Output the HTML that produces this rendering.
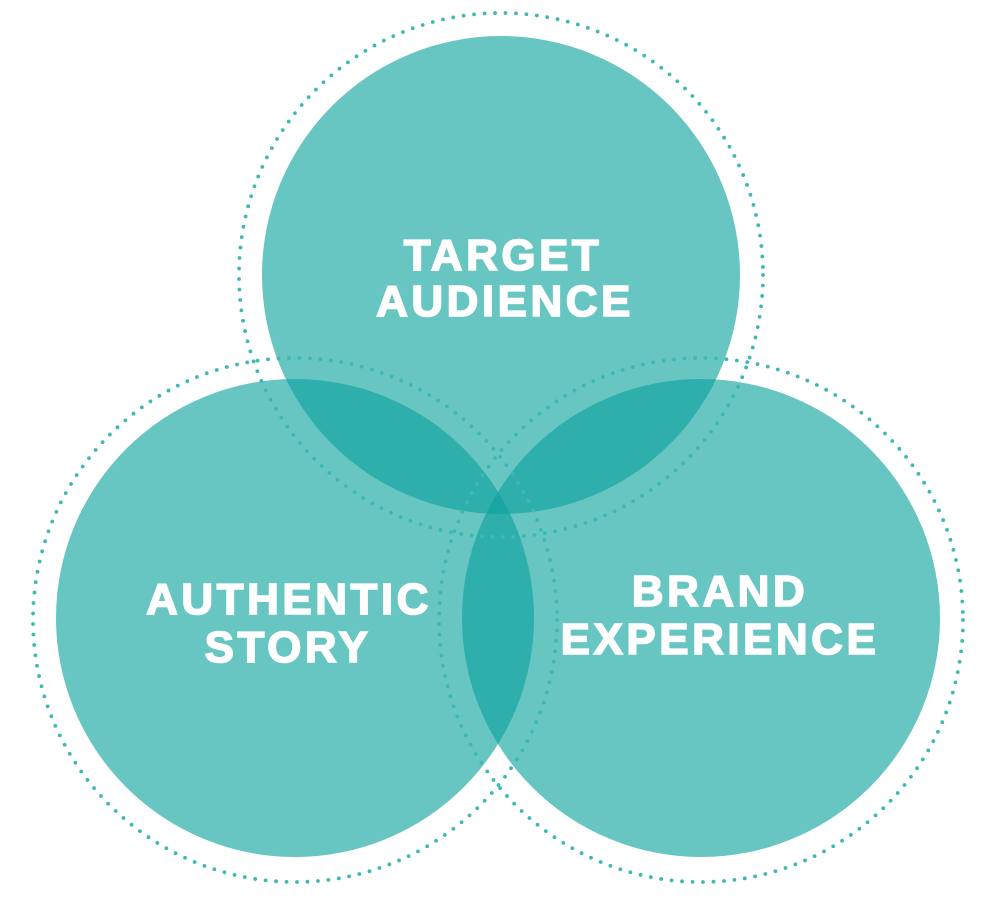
<!DOCTYPE html>
<html><head><meta charset="utf-8"><style>
html,body{margin:0;padding:0;background:#fff;}
svg{display:block;}
text{font-family:"Liberation Sans",Arial,sans-serif;font-weight:bold;fill:#fff;stroke:#fff;stroke-width:1.6px;font-size:44px;text-anchor:middle;letter-spacing:3.5px;}
</style></head><body>
<svg width="1000" height="900" viewBox="0 0 1000 900">
<g fill="rgb(12,162,157)" fill-opacity="0.625">
<circle cx="501" cy="275" r="239"/>
<circle cx="295" cy="618" r="239"/>
<circle cx="701" cy="618" r="239"/>
</g>
<g fill="none" stroke="#3cb9b3" stroke-width="3.8" stroke-linecap="round" stroke-dasharray="0 10.5">
<circle cx="501" cy="275" r="262"/>
<circle cx="295" cy="620" r="262"/>
<circle cx="701" cy="620" r="262"/>
</g>
<text x="503" y="270">TARGET</text>
<text x="505" y="316">AUDIENCE</text>
<text x="289" y="614">AUTHENTIC</text>
<text x="288" y="662">STORY</text>
<text x="720" y="606">BRAND</text>
<text x="720" y="654">EXPERIENCE</text>
</svg>
</body></html>
